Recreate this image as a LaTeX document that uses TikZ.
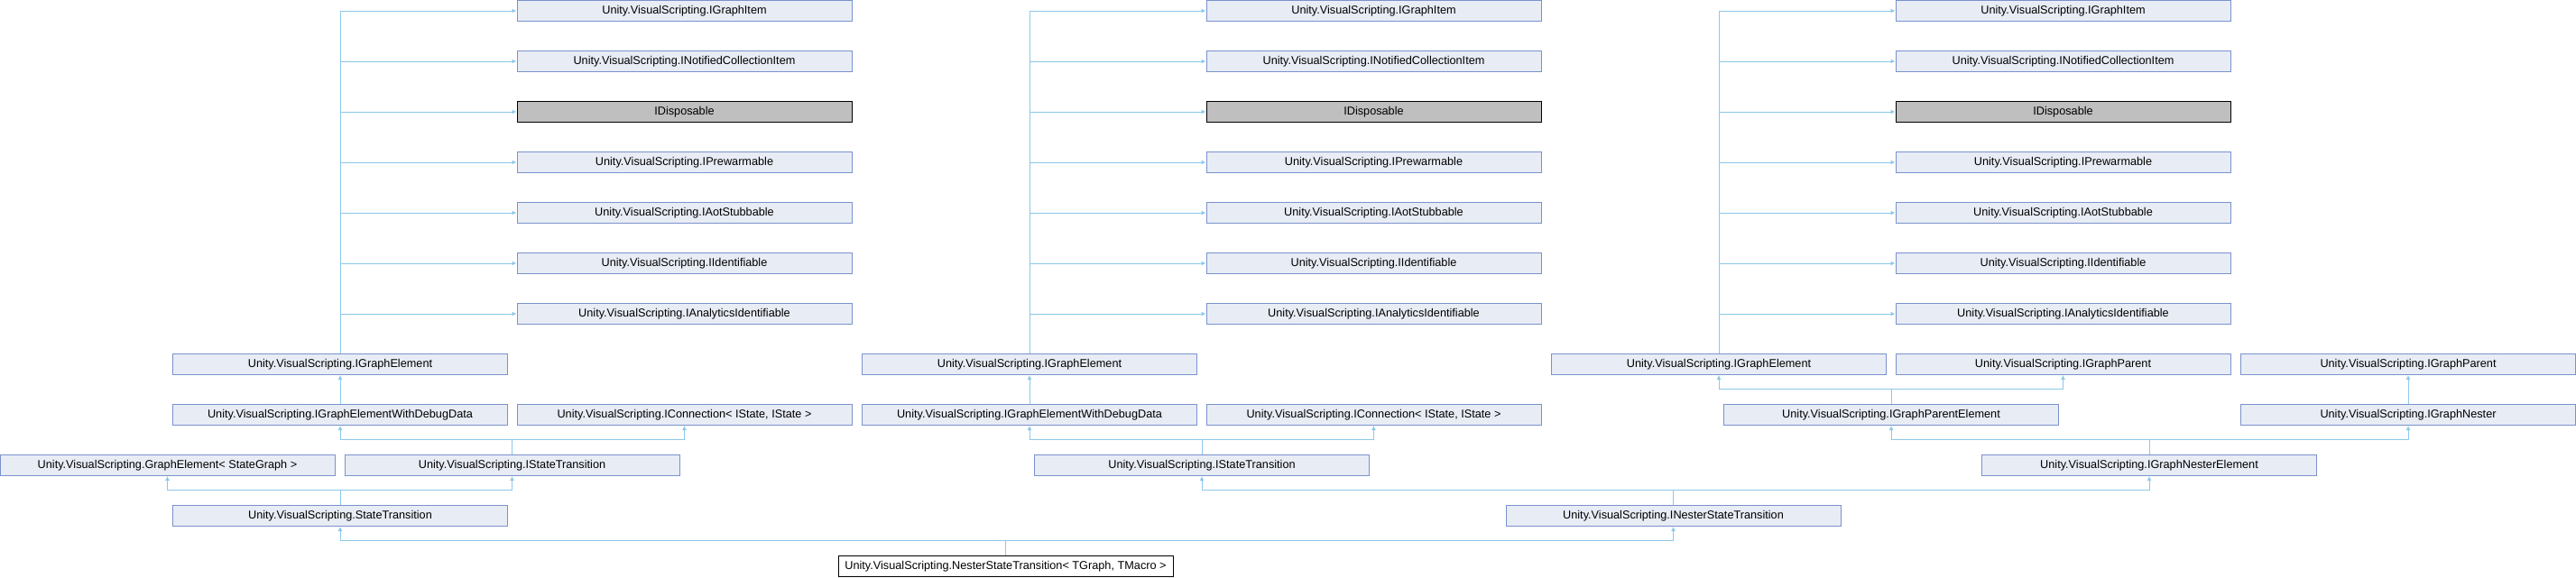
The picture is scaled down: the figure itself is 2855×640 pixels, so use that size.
\documentclass[tikz,border=0pt]{standalone}
\usepackage{fontspec}
\setmainfont{Liberation Sans}
\usetikzlibrary{arrows.meta}
\definecolor{edgeblue}{HTML}{8CC8EA}
\definecolor{boxfill}{HTML}{E8ECF5}
\definecolor{boxline}{HTML}{7A92CC}
\definecolor{extgray}{HTML}{BFBFBF}

\begin{document}
\begin{tikzpicture}[x=1pt,y=-1pt,
  cls/.style={draw=boxline,fill=boxfill,line width=1pt,minimum width=371pt,minimum height=23pt,inner sep=0pt,font=\fontsize{12.7}{14}\selectfont},
  ext/.style={cls,draw=black,fill=extgray},
  cur/.style={cls,draw=black,fill=white},
  inh/.style={draw=edgeblue,line width=1pt,-{Latex[length=5pt,width=5pt]}}]
\useasboundingbox (0,0) rectangle (2855,640);
% three copies of the IGraphElement stack
\foreach \c/\dx in {a/0,b/764,c/1528}{
  \foreach \r/\s/\txt in {0/cls/Unity.VisualScripting.IGraphItem,1/cls/Unity.VisualScripting.INotifiedCollectionItem,
      2/ext/IDisposable,3/cls/Unity.VisualScripting.IPrewarmable,4/cls/Unity.VisualScripting.IAotStubbable,
      5/cls/Unity.VisualScripting.IIdentifiable,6/cls/Unity.VisualScripting.IAnalyticsIdentifiable}
    \node[\s] (\c\r) at (758.5+\dx,12+56*\r) {\txt};
  \node[cls] (\c ge) at (377+\dx,404) {Unity.VisualScripting.IGraphElement};
  \foreach \r in {0,...,6} \draw[inh] (\c ge.north) |- (\c\r.west);
}
% left part
\node[cls] (adbg) at (377,460) {Unity.VisualScripting.IGraphElementWithDebugData};
\node[cls] (acon) at (758.5,460) {Unity.VisualScripting.IConnection< IState, IState >};
\node[cls] (gelem) at (185.5,516) {Unity.VisualScripting.GraphElement< StateGraph >};
\node[cls] (atrans) at (567.5,516) {Unity.VisualScripting.IStateTransition};
\node[cls] (strans) at (377,572) {Unity.VisualScripting.StateTransition};
\node[cur] (nester) at (1114.5,628) {Unity.VisualScripting.NesterStateTransition< TGraph, TMacro >};
% middle part
\node[cls] (bdbg) at (1141,460) {Unity.VisualScripting.IGraphElementWithDebugData};
\node[cls] (bcon) at (1522.5,460) {Unity.VisualScripting.IConnection< IState, IState >};
\node[cls] (btrans) at (1332,516) {Unity.VisualScripting.IStateTransition};
\node[cls] (instrans) at (1854.5,572) {Unity.VisualScripting.INesterStateTransition};
% right part
\node[cls] (parent) at (2286.5,404) {Unity.VisualScripting.IGraphParent};
\node[cls] (parent2) at (2669,404) {Unity.VisualScripting.IGraphParent};
\node[cls] (pelem) at (2096,460) {Unity.VisualScripting.IGraphParentElement};
\node[cls] (gnester) at (2669,460) {Unity.VisualScripting.IGraphNester};
\node[cls] (nelem) at (2382,516) {Unity.VisualScripting.IGraphNesterElement};
% inheritance
\draw[inh] (adbg) -- (age); \draw[inh] (bdbg) -- (bge);
\draw[inh] (atrans.north) -- ++(0,-16.5) -| (adbg.south); \draw[inh] (atrans.north) -- ++(0,-16.5) -| (acon.south);
\draw[inh] (strans.north) -- ++(0,-16.5) -| (gelem.south); \draw[inh] (strans.north) -- ++(0,-16.5) -| (atrans.south);
\draw[inh] (nester.north) -- ++(0,-16.5) -| (strans.south); \draw[inh] (nester.north) -- ++(0,-16.5) -| (instrans.south);
\draw[inh] (btrans.north) -- ++(0,-16.5) -| (bdbg.south); \draw[inh] (btrans.north) -- ++(0,-16.5) -| (bcon.south);
\draw[inh] (instrans.north) -- ++(0,-16.5) -| (btrans.south); \draw[inh] (instrans.north) -- ++(0,-16.5) -| (nelem.south);
\draw[inh] (pelem.north) -- ++(0,-16.5) -| (cge.south); \draw[inh] (pelem.north) -- ++(0,-16.5) -| (parent.south);
\draw[inh] (gnester) -- (parent2);
\draw[inh] (nelem.north) -- ++(0,-16.5) -| (pelem.south); \draw[inh] (nelem.north) -- ++(0,-16.5) -| (gnester.south);
\end{tikzpicture}
\end{document}
